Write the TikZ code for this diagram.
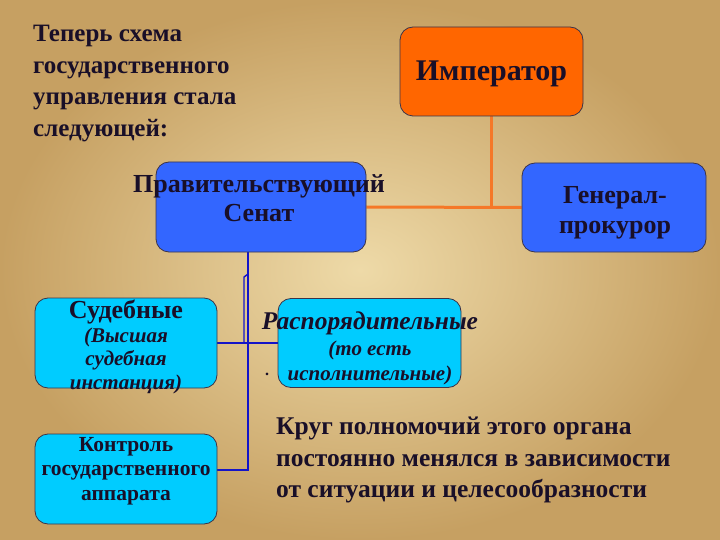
\documentclass[tikz,border=0pt]{standalone}
\usepackage{fontspec}
\setmainfont{Liberation Serif}
\definecolor{ParchLight}{RGB}{238,218,168}
\definecolor{ParchDark}{RGB}{198,160,98}
\definecolor{ImpOrange}{RGB}{255,102,0}
\definecolor{SenBlue}{RGB}{51,102,255}
\definecolor{SubCyan}{RGB}{0,204,255}
\definecolor{LineOrange}{RGB}{245,120,40}
\definecolor{LineBlue}{RGB}{20,20,200}
\definecolor{InkDark}{RGB}{25,15,40}
\usetikzlibrary{positioning,backgrounds}
\tikzset{
  box/.style={draw=InkDark!85,line width=0.8pt,rounded corners=13pt,minimum width=183pt,minimum height=89pt,inner sep=0pt},
  lbl/.style={align=center,text=InkDark,inner sep=0pt},
  orgline/.style={LineOrange,line width=3pt},
  bluline/.style={LineBlue,line width=2.6pt}
}

\begin{document}
\begin{tikzpicture}[x=1pt,y=-1pt]
        \useasboundingbox (0,0) rectangle (720,540);
        % boxes
        \node[box,fill=ImpOrange] at (491.5,71.5) (imp) {};
        \node[box,fill=SenBlue,minimum width=184pt] at (614,207.5) (gen) {};
        \node[box,fill=SenBlue,minimum width=210pt,minimum height=90pt] at (261,207) (senat) {};
        \node[box,fill=SubCyan,minimum width=182pt,minimum height=90pt] at (126,343) (sud) {};
        \node[box,fill=SubCyan] at (369.5,343) (rasp) {};
        \node[box,fill=SubCyan,minimum width=182pt,minimum height=90pt] at (126,479) (kontr) {};
        % connectors
        \coordinate (trunk) at (248,470);
        \begin{scope}[on background layer]
            % parchment background
            \shade[inner color=ParchLight,outer color=ParchDark] (0,0) rectangle (720,540);
            \draw[orgline] (senat.east) -- (gen.west);
            \draw[orgline] (imp.south) -- (imp.south |- gen.west);
            \draw[bluline] (senat.south -| trunk) -- (trunk) -- (kontr.east |- trunk);
            \draw[bluline] (sud.east) -- (rasp.west);
            \draw[LineBlue,line width=1.4pt] (244,343) -- (244,277) -- (248,274);
        \end{scope}
        % labels
        \node[lbl,font=\bfseries\fontsize{30}{34}\selectfont] at (491.5,74) (imp-txt) {Император};
        \node[lbl,font=\bfseries\fontsize{26}{30}\selectfont] at (615,213) (gen-txt) {Генерал-\\прокурор};
        \node[lbl,font=\bfseries\fontsize{26}{29}\selectfont] at (259,198) (senat-txt) {Правительствующий\\Сенат};
        \node[lbl,font=\bfseries\itshape\fontsize{21}{23.5}\selectfont] at (126,347) (sud-txt)
            {{\upshape\fontsize{26}{24}\selectfont Судебные}\\(Высшая\\судебная\\инстанция)};
        \node[lbl,font=\bfseries\itshape\fontsize{21}{25.5}\selectfont] at (370,348.5) (rasp-txt)
            {{\fontsize{25.5}{25.5}\selectfont Распорядительные}\\(то есть\\исполнительные)};
        \node[lbl,font=\bfseries\fontsize{21.5}{24.5}\selectfont] at (126,471) (kontr-txt) {Контроль\\государственного\\аппарата};
        \node[lbl,font=\bfseries\fontsize{16}{16}\selectfont] at (267,374) (dot) {.};
        \node[lbl,align=left,anchor=north west,font=\bfseries\fontsize{25}{31.5}\selectfont] at (33,25) (intro)
            {Теперь схема\\государственного\\управления стала\\следующей:};
        \node[lbl,align=left,anchor=north west,font=\bfseries\fontsize{25.5}{31.5}\selectfont] at (276,417) (krug)
            {Круг полномочий этого органа\\постоянно менялся в зависимости\\от ситуации и целесообразности};
    \end{tikzpicture}
\end{document}
